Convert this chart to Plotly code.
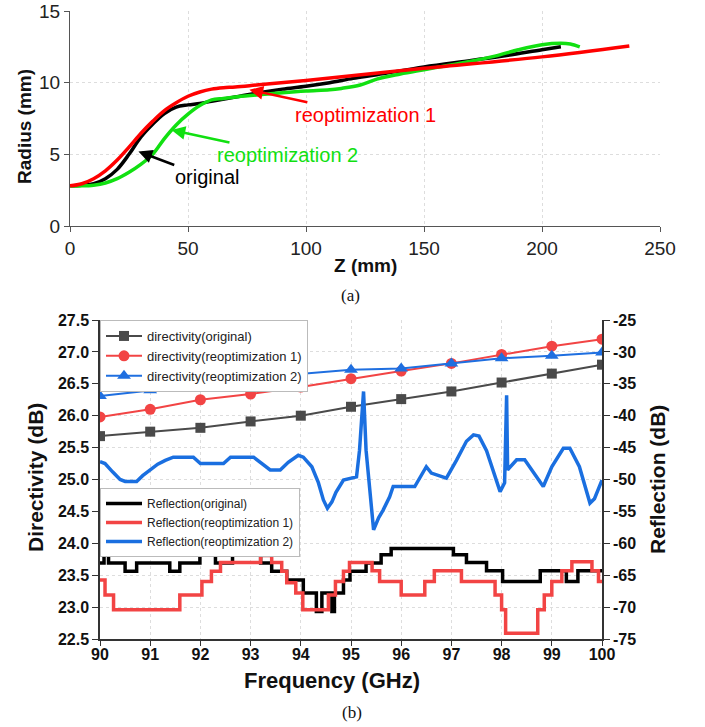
import plotly.graph_objects as go

# ---------------- (a) profile data ----------------
z_orig = [0, 5, 10, 15, 20, 25, 30, 35, 40, 45, 50, 55, 60, 70, 80, 90, 100, 110, 120, 130, 150, 170, 185, 200, 208]
r_orig = [2.8, 2.85, 2.95, 3.3, 3.95, 5.0, 6.2, 7.1, 7.85, 8.3, 8.45, 8.55, 8.7, 9.0, 9.3, 9.55, 9.75, 10.0, 10.3, 10.55, 11.1, 11.55, 11.9, 12.3, 12.5]

z_re1 = [0, 5, 10, 15, 20, 25, 30, 35, 40, 45, 50, 55, 60, 65, 70, 80, 100, 150, 200, 237]
r_re1 = [2.8, 2.95, 3.3, 3.85, 4.6, 5.5, 6.45, 7.3, 8.05, 8.6, 9.05, 9.35, 9.55, 9.65, 9.7, 9.85, 10.15, 11.0, 11.8, 12.56]

z_re2 = [0, 5, 10, 15, 20, 25, 30, 35, 40, 45, 50, 55, 60, 65, 70, 80, 90, 100, 110, 115, 123, 130, 140, 150, 160, 170, 180, 190, 200, 208, 212, 216]
r_re2 = [2.8, 2.8, 2.85, 3.0, 3.3, 3.75, 4.3, 5.0, 6.1, 7.05, 7.8, 8.4, 8.8, 8.9, 9.0, 9.15, 9.3, 9.42, 9.5, 9.6, 9.84, 10.25, 10.6, 10.9, 11.2, 11.5, 11.85, 12.3, 12.65, 12.75, 12.7, 12.5]

# ---------------- (b) directivity data ----------------
freq = [90, 91, 92, 93, 94, 95, 96, 97, 98, 99, 100]
dir_orig = [25.68, 25.75, 25.81, 25.91, 26.0, 26.14, 26.26, 26.38, 26.52, 26.66, 26.8]
dir_re1 = [25.98, 26.1, 26.25, 26.34, 26.45, 26.58, 26.7, 26.82, 26.96, 27.09, 27.2]
dir_re2 = [26.31, 26.4, 26.48, 26.59, 26.65, 26.72, 26.74, 26.82, 26.9, 26.94, 26.99]

# ---------------- (b) reflection data ----------------
f_ref_orig = [90.0, 90.08, 90.17, 90.5, 90.73, 91.39, 91.59, 91.99, 92.3, 92.64, 93.2, 93.42, 93.72, 94.05, 94.31, 94.42,
              94.62, 94.67, 94.85, 94.98, 95.3, 95.6, 95.8, 97.04, 97.3, 97.7, 98.02, 98.77, 99.29, 99.52, 100.0]
ref_orig = [-63.1, -61.8, -63.1, -64.4, -63.1, -64.4, -63.1, -61.8, -63.1, -61.8, -63.1, -64.4, -65.75, -67.8, -70.7, -67.8,
            -70.7, -67.8, -65.75, -64.4, -63.1, -61.8, -60.8, -61.8, -63.0, -64.3, -66.0, -64.3, -66.0, -64.3, -64.3]

f_ref_re1 = [90.0, 90.1, 90.27, 91.59, 92.03, 92.22, 92.4, 93.2, 93.42, 93.62, 93.72, 93.9, 94.04, 94.55, 94.69, 94.85,
             94.97, 95.42, 95.57, 96.0, 96.47, 96.66, 97.2, 97.87, 98.0, 98.08, 98.72, 98.85, 99.0, 99.2, 99.4, 99.8, 99.93, 100.0]
ref_re1 = [-65.75, -68.1, -70.4, -68.1, -66.0, -64.4, -63.0, -61.9, -63.0, -64.4, -66.2, -67.8, -70.4, -68.1, -66.0, -64.4,
           -63.0, -64.3, -66.0, -68.1, -66.0, -64.3, -66.0, -68.1, -70.4, -74.1, -70.4, -68.1, -66.0, -64.3, -62.9, -64.3, -66.0, -66.0]

f_ref_re2 = [90.0, 90.1, 90.25, 90.4, 90.5, 90.73, 90.85, 91.0, 91.15, 91.3, 91.46, 91.86, 92.0, 92.46, 92.6, 93.06, 93.2,
             93.39, 93.59, 93.75, 93.95, 94.05, 94.22, 94.35, 94.45, 94.53, 94.62, 94.7, 94.85, 95.11, 95.17, 95.25, 95.3,
             95.38, 95.45, 95.55, 95.64, 95.77, 95.84, 96.27, 96.5, 96.6, 96.75, 96.9, 97.1, 97.3, 97.44, 97.55, 97.7, 97.85,
             97.97, 98.06, 98.1, 98.12, 98.3, 98.46, 98.65, 98.83, 99.0, 99.23, 99.36, 99.55, 99.76, 99.85, 100.0]
ref_re2 = [-47.2, -47.5, -48.8, -50.0, -50.3, -50.3, -49.4, -48.5, -47.6, -47.0, -46.5, -46.5, -47.5, -47.5, -46.5, -46.5, -47.4,
           -48.5, -48.5, -47.3, -46.2, -46.5, -48.0, -50.5, -53.2, -54.5, -53.5, -52.0, -50.1, -49.6, -45.4, -36.2, -45.4,
           -52.0, -57.9, -56.0, -54.8, -52.7, -51.1, -51.1, -48.0, -49.0, -49.4, -49.8, -47.0, -44.0, -43.0, -43.2, -45.5, -49.0,
           -51.9, -50.5, -36.8, -48.5, -46.9, -46.9, -49.0, -51.1, -48.0, -45.1, -45.1, -48.0, -53.7, -53.0, -50.1]

a_xticks = [0, 50, 100, 150, 200, 250]
a_yticks = [0, 5, 10, 15]
b_xticks = [90, 91, 92, 93, 94, 95, 96, 97, 98, 99, 100]
b_lticks = [22.5, 23.0, 23.5, 24.0, 24.5, 25.0, 25.5, 26.0, 26.5, 27.0, 27.5]
b_rticks = [-75, -70, -65, -60, -55, -50, -45, -40, -35, -30, -25]

W, H = 705, 727
FONT = "Arial, Liberation Sans, sans-serif"
SERIF = "Times New Roman, Liberation Serif, serif"

def px(x):
    return x / W

def py(y):
    return 1 - y / H

fig = go.Figure()

# (a) traces
fig.add_trace(go.Scatter(x=z_orig, y=r_orig, mode="lines", line=dict(color="#000000", width=3.5, shape="spline"),
                         xaxis="x", yaxis="y", showlegend=False))
fig.add_trace(go.Scatter(x=z_re2, y=r_re2, mode="lines", line=dict(color="#11e011", width=3.5, shape="spline"),
                         xaxis="x", yaxis="y", showlegend=False))
fig.add_trace(go.Scatter(x=z_re1, y=r_re1, mode="lines", line=dict(color="#ff0000", width=3.5, shape="spline"),
                         xaxis="x", yaxis="y", showlegend=False))

# (b) directivity
GRAY, RED, BLUE = "#4a4a4a", "#f24444", "#1f6fe0"
fig.add_trace(go.Scatter(x=freq, y=dir_orig, mode="lines+markers", name="directivity(original)",
                         line=dict(color=GRAY, width=2), marker=dict(symbol="square", size=10, color=GRAY),
                         xaxis="x2", yaxis="y2", legend="legend"))
fig.add_trace(go.Scatter(x=freq, y=dir_re1, mode="lines+markers", name="directivity(reoptimization 1)",
                         line=dict(color=RED, width=2), marker=dict(symbol="circle", size=11, color=RED),
                         xaxis="x2", yaxis="y2", legend="legend"))
fig.add_trace(go.Scatter(x=freq, y=dir_re2, mode="lines+markers", name="directivity(reoptimization 2)",
                         line=dict(color=BLUE, width=2), marker=dict(symbol="triangle-up", size=12, color=BLUE),
                         xaxis="x2", yaxis="y2", legend="legend"))

# (b) reflection
fig.add_trace(go.Scatter(x=f_ref_orig, y=ref_orig, mode="lines", name="Reflection(original)",
                         line=dict(color="#000000", width=3.5, shape="hv"),
                         xaxis="x2", yaxis="y3", legend="legend2"))
fig.add_trace(go.Scatter(x=f_ref_re1, y=ref_re1, mode="lines", name="Reflection(reoptimization 1)",
                         line=dict(color=RED, width=3.5, shape="hv"),
                         xaxis="x2", yaxis="y3", legend="legend2"))
fig.add_trace(go.Scatter(x=f_ref_re2, y=ref_re2, mode="lines", name="Reflection(reoptimization 2)",
                         line=dict(color="#1a6fe0", width=3.5),
                         xaxis="x2", yaxis="y3", legend="legend2"))

tick_a = dict(family=FONT, size=19, color="#222")
tick_b = dict(family=FONT, size=16, color="#111", weight="bold")

legend_common = dict(bgcolor="white", bordercolor="#bbbbbb", borderwidth=1, xanchor="left", yanchor="top",
                     itemwidth=36, tracegroupgap=0)

fig.update_layout(
    width=W, height=H, margin=dict(l=0, r=0, t=0, b=0, pad=0, autoexpand=False),
    paper_bgcolor="white", plot_bgcolor="white",
    font=dict(family=FONT),
    xaxis=dict(domain=[px(70), px(660)], anchor="y", range=[0, 250], tickvals=a_xticks, automargin=False,
               ticks="outside", ticklen=5, tickcolor="#555", showline=True, linecolor="#555", linewidth=1,
               showgrid=True, gridcolor="#dddddd", griddash="dot", zeroline=False, tickfont=tick_a),
    yaxis=dict(domain=[py(226), py(11)], anchor="x", range=[0, 15], tickvals=a_yticks, automargin=False,
               ticks="outside", ticklen=5, tickcolor="#555", showline=True, linecolor="#555", linewidth=1,
               showgrid=True, gridcolor="#dddddd", griddash="dot", zeroline=False, tickfont=tick_a),
    xaxis2=dict(domain=[px(100), px(602)], anchor="y2", range=[90, 100], tickvals=b_xticks, automargin=False,
                ticks="outside", ticklen=5, tickcolor="#333", showline=True, linecolor="#333", linewidth=1.5,
                ticklabelstandoff=-5,
                showgrid=True, gridcolor="#dddddd", griddash="dot", zeroline=False, tickfont=tick_b),
    xaxis3=dict(overlaying="x2", side="top", anchor="y2", range=[90, 100], tickvals=b_xticks, automargin=False,
                ticks="inside", ticklen=6, tickcolor="#333", showline=True, linecolor="#333", linewidth=1.5,
                showgrid=False, zeroline=False, showticklabels=False),
    yaxis2=dict(domain=[py(639), py(320)], anchor="x2", range=[22.5, 27.5], tickvals=b_lticks, automargin=False,
                ticktext=[f"{v:.1f}" for v in b_lticks],
                ticks="outside", ticklen=6, tickcolor="#333", showline=True, linecolor="#333", linewidth=1.5,
                showgrid=True, gridcolor="#dddddd", griddash="dot", zeroline=False, tickfont=tick_b),
    yaxis3=dict(overlaying="y2", side="right", anchor="x2", range=[-75, -25], tickvals=b_rticks, automargin=False,
                ticktext=[f"{v:d}" for v in b_rticks],
                ticks="outside", ticklen=6, tickcolor="#333", showline=True, linecolor="#333", linewidth=1.5,
                showgrid=False, zeroline=False, tickfont=tick_b),
    legend=dict(x=px(100), y=py(320), font=dict(family=FONT, size=13, color="#222"), **legend_common),
    legend2=dict(x=px(100), y=py(488), font=dict(family=FONT, size=12, color="#222"), **legend_common),
)

C = dict(xref="paper", yref="paper", showarrow=False, xanchor="center", yanchor="middle")
ann = []
# (a) axis titles
ann.append(dict(text="<b>Radius (mm)</b>", x=px(25), y=py(127), textangle=-90,
                font=dict(family=FONT, size=19, color="#111"), **C))
ann.append(dict(text="<b>Z (mm)</b>", x=px(365), y=py(265), font=dict(family=FONT, size=19, color="#111"), **C))
ann.append(dict(text="(a)", x=px(350), y=py(295), font=dict(family=SERIF, size=17, color="#111"), **C))
# (a) curve labels with arrows
ann.append(dict(text="reoptimization 1", x=76, y=9.5, xref="x", yref="y", ax=116, ay=25,
                showarrow=True, arrowhead=2, arrowsize=1.1, arrowwidth=2.5, arrowcolor="#ff0000",
                font=dict(family=FONT, size=20, color="#ff0000")))
ann.append(dict(text="reoptimization 2", x=43, y=6.7, xref="x", yref="y", ax=116, ay=25,
                showarrow=True, arrowhead=2, arrowsize=1.1, arrowwidth=2.5, arrowcolor="#11e011",
                font=dict(family=FONT, size=20, color="#11e011")))
ann.append(dict(text="original", x=29, y=5.2, xref="x", yref="y", ax=69, ay=26,
                showarrow=True, arrowhead=2, arrowsize=1.1, arrowwidth=2.5, arrowcolor="#000000",
                font=dict(family=FONT, size=20, color="#000000")))
# (b) axis titles
ann.append(dict(text="<b>Directivity (dB)</b>", x=px(35), y=py(478), textangle=-90,
                font=dict(family=FONT, size=21, color="#111"), **C))
ann.append(dict(text="<b>Reflection (dB)</b>", x=px(657), y=py(480), textangle=-90,
                font=dict(family=FONT, size=21, color="#111"), **C))
ann.append(dict(text="<b>Frequency (GHz)</b>", x=px(332), y=py(680), font=dict(family=FONT, size=22, color="#111"), **C))
ann.append(dict(text="(b)", x=px(352), y=py(712), font=dict(family=SERIF, size=17, color="#111"), **C))
fig.update_layout(annotations=ann)

fig.write_html("out.html", config={"displayModeBar": False},
               post_script="document.documentElement.style.margin='0';document.body.style.margin='0';document.body.style.overflow='hidden';")
